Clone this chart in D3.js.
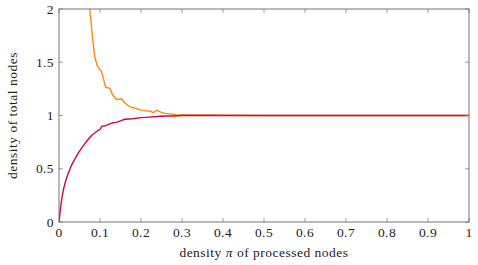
<!DOCTYPE html>
<html>
<head>
<meta charset="utf-8">
<script src="https://cdn.jsdelivr.net/npm/d3@7"></script>
<style>
  body { margin: 0; background: #fff; }
  text { font-family: serif; fill: #222; }
</style>
</head>
<body>
<div id="chart"></div>
<script>
// density of processed nodes (x) vs density of total nodes (y)
var redX = [0, 0.005, 0.01, 0.015, 0.02, 0.03, 0.04, 0.05, 0.06, 0.07, 0.08, 0.09, 0.1, 0.105,
  0.11, 0.12, 0.13, 0.14, 0.15, 0.16, 0.18, 0.2, 0.22, 0.24, 0.26, 0.28, 0.3, 0.35, 0.4,
  0.5, 0.6, 0.7, 0.8, 0.9, 1.0];
var redY = [0, 0.17, 0.29, 0.37, 0.43, 0.53, 0.6, 0.665, 0.72, 0.77, 0.815, 0.845, 0.87, 0.9,
  0.9, 0.915, 0.93, 0.935, 0.95, 0.965, 0.97, 0.98, 0.985, 0.99, 0.995, 0.995, 1.0, 1.0, 1.0,
  1.0, 1.0, 1.0, 1.0, 1.0, 1.0];

var orangeX = [0.07, 0.075, 0.08, 0.085, 0.088, 0.093, 0.098, 0.103, 0.11, 0.114, 0.124, 0.13,
  0.14, 0.153, 0.16, 0.17, 0.177, 0.19, 0.2, 0.21, 0.222, 0.23, 0.238, 0.25, 0.259, 0.27,
  0.285, 0.3, 0.32, 0.35, 0.37, 0.4, 0.5, 0.6, 0.7, 0.8, 0.9, 1.0];
var orangeY = [2.4, 2.0, 1.8, 1.62, 1.54, 1.47, 1.44, 1.42, 1.32, 1.265, 1.255, 1.2,
  1.15, 1.155, 1.12, 1.09, 1.077, 1.065, 1.05, 1.045, 1.042, 1.026, 1.049, 1.03, 1.02, 1.015,
  1.007, 1.006, 1.004, 1.006, 1.004, 1.002, 1.0, 1.0, 1.0, 1.0, 1.0, 1.0];

var xTicks = [0, 0.1, 0.2, 0.3, 0.4, 0.5, 0.6, 0.7, 0.8, 0.9, 1];
var yTicks = [0, 0.5, 1, 1.5, 2];

var width = 478, height = 265;
var margin = {left: 59, right: 9, top: 9, bottom: 43};

var svg = d3.select('#chart').append('svg')
  .attr('width', width)
  .attr('height', height);

var x = d3.scaleLinear().domain([0, 1]).range([margin.left, width - margin.right]);
var y = d3.scaleLinear().domain([0, 2]).range([height - margin.bottom, margin.top]);

// clip so the orange line stops at the top of the box
svg.append('clipPath').attr('id', 'clip')
  .append('rect')
  .attr('x', x(0)).attr('y', y(2))
  .attr('width', x(1) - x(0)).attr('height', y(0) - y(2));

var line = d3.line()
  .x(function(d) { return x(d[0]); })
  .y(function(d) { return y(d[1]); });

var orange = d3.zip(orangeX, orangeY);
var red = d3.zip(redX, redY);

svg.append('path')
  .datum(orange)
  .attr('clip-path', 'url(#clip)')
  .attr('fill', 'none')
  .attr('stroke', '#ff8a10')
  .attr('stroke-width', 1.4)
  .attr('stroke-linejoin', 'round')
  .attr('d', line);

svg.append('path')
  .datum(red)
  .attr('clip-path', 'url(#clip)')
  .attr('fill', 'none')
  .attr('stroke', '#c40a48')
  .attr('stroke-width', 1.4)
  .attr('stroke-linejoin', 'round')
  .attr('d', line);

// inward ticks on all four sides
var tickLen = 4;
var ticks = svg.append('g').attr('stroke', '#888').attr('stroke-width', 0.8);
xTicks.forEach(function(t) {
  ticks.append('line').attr('x1', x(t)).attr('x2', x(t))
    .attr('y1', y(0)).attr('y2', y(0) - tickLen);
  ticks.append('line').attr('x1', x(t)).attr('x2', x(t))
    .attr('y1', y(2)).attr('y2', y(2) + tickLen);
});
yTicks.forEach(function(t) {
  ticks.append('line').attr('x1', x(0)).attr('x2', x(0) + tickLen)
    .attr('y1', y(t)).attr('y2', y(t));
  ticks.append('line').attr('x1', x(1)).attr('x2', x(1) - tickLen)
    .attr('y1', y(t)).attr('y2', y(t));
});

// frame
svg.append('rect')
  .attr('x', x(0)).attr('y', y(2))
  .attr('width', x(1) - x(0)).attr('height', y(0) - y(2))
  .attr('fill', 'none')
  .attr('stroke', '#666')
  .attr('stroke-width', 0.9);

// tick labels
svg.selectAll('.xlab')
  .data(xTicks)
  .enter()
  .append('text')
  .attr('x', function(d) { return x(d); })
  .attr('y', y(0) + 15)
  .attr('text-anchor', 'middle')
  .style('font-size', '13.5px')
  .style('letter-spacing', '0.4px')
  .text(function(d) { return d3.format('')(d); });

svg.selectAll('.ylab')
  .data(yTicks)
  .enter()
  .append('text')
  .attr('x', x(0) - 5)
  .attr('y', function(d) { return y(d) + 4.5; })
  .attr('text-anchor', 'end')
  .style('font-size', '13.5px')
  .style('letter-spacing', '0.4px')
  .text(function(d) { return d3.format('')(d); });

// axis titles
var xTitle = svg.append('text')
  .attr('x', x(0.5))
  .attr('y', 257)
  .attr('text-anchor', 'middle')
  .style('font-size', '13.5px')
  .style('letter-spacing', '0.5px');
xTitle.append('tspan').text('density ');
xTitle.append('tspan').style('font-style', 'italic').text('π');
xTitle.append('tspan').text(' of processed nodes');

svg.append('text')
  .attr('transform', 'translate(17,' + y(1) + ') rotate(-90)')
  .attr('text-anchor', 'middle')
  .style('font-size', '13.5px')
  .style('letter-spacing', '0.5px')
  .text('density of total nodes');
</script>
</body>
</html>
